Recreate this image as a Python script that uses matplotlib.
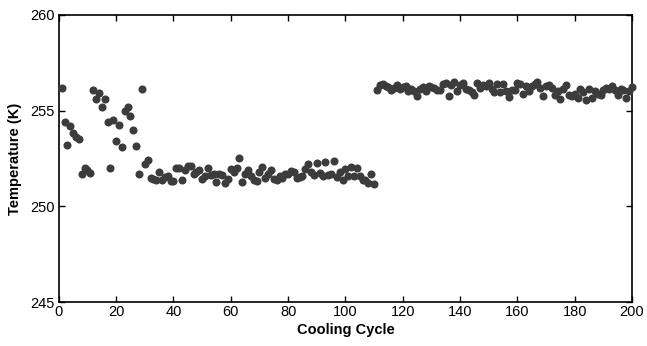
import matplotlib
matplotlib.use("Agg")
import matplotlib.pyplot as plt
import numpy as np

plt.rcParams['font.family'] = ['Liberation Sans', 'DejaVu Sans']

# temperature per cooling cycle (cycles 1..110)
temp_low = [
    256.2, 254.4, 253.2, 254.2, 253.85, 253.6, 253.5, 251.7, 252.0, 251.9,
    251.75, 256.1, 255.6, 255.9, 255.2, 255.6, 254.4, 252.0, 254.5, 253.4,
    254.25, 253.1, 255.0, 255.2, 254.7, 254.0, 253.15, 251.7, 256.15, 252.2,
    252.4, 251.5, 251.45, 251.4, 251.8, 251.4, 251.55, 251.6, 251.3, 251.3,
    252.0, 252.0, 251.35, 251.9, 252.1, 252.1, 251.7, 251.8, 251.9, 251.45,
    251.6, 252.0, 251.65, 251.7, 251.25, 251.7, 251.65, 251.2, 251.45, 251.95,
    251.8, 252.0, 252.55, 251.25, 251.7, 251.9, 251.6, 251.4, 251.3, 251.8,
    252.05, 251.5, 251.7, 251.9, 251.45, 251.4, 251.6, 251.5, 251.7, 251.7,
    251.85, 251.8, 251.5, 251.55, 251.6, 251.95, 252.2, 251.8, 251.65, 252.25,
    251.75, 251.6, 252.3, 251.65, 251.7, 252.35, 251.55, 251.8, 251.4, 251.95,
    251.6, 252.05, 251.6, 252.0, 251.6, 251.4, 251.35, 251.2, 251.7, 251.15,
]

# cycles 111..200
temp_high = [
    256.1, 256.35, 256.4, 256.3, 256.25, 256.1, 256.2, 256.35, 256.15, 256.25,
    256.3, 256.05, 256.15, 256.0, 255.75, 256.15, 256.25, 256.0, 256.3, 256.25,
    256.2, 256.1, 256.1, 256.4, 256.45, 255.75, 256.35, 256.5, 256.05, 256.35,
    256.45, 256.15, 256.1, 255.95, 255.8, 256.45, 256.2, 256.35, 256.3, 256.45,
    256.15, 255.95, 256.4, 255.95, 256.4, 256.05, 255.7, 256.1, 256.1, 256.45,
    256.4, 255.85, 256.3, 256.05, 256.3, 256.4, 256.5, 256.2, 255.75, 256.3,
    256.35, 256.2, 255.8, 256.05, 255.6, 256.15, 256.35, 255.8, 255.75, 255.85,
    255.65, 256.15, 255.95, 255.55, 256.15, 255.65, 256.0, 255.85, 255.8, 256.1,
    256.2, 256.15, 256.3, 256.1, 255.8, 256.15, 256.1, 255.65, 256.05, 256.25,
]

temps = temp_low + temp_high
cycles = np.arange(1, len(temps) + 1)

x_ticks = list(range(0, 201, 20))
y_ticks = [245, 250, 255, 260]

fig = plt.figure(figsize=(6.47, 3.46), dpi=100)
ax = fig.add_axes([0.0909, 0.127, 0.886, 0.83])

ax.plot(cycles, temps, 'o', color='#3c3c3c', markersize=5.8,
        markeredgewidth=0, clip_on=False, zorder=3)

ax.set_xlim(0, 200)
ax.set_ylim(245, 260)
ax.set_xticks(x_ticks)
ax.set_yticks(y_ticks)

ax.tick_params(axis='x', direction='in', length=4, width=1, top=True,
               labelsize=10.5, pad=2)
ax.tick_params(axis='y', direction='in', length=4, width=1, right=True,
               labelsize=10.5, pad=3)
for sp in ax.spines.values():
    sp.set_linewidth(1.2)

ax.set_xlabel('Cooling Cycle', fontsize=10.5, fontweight='bold', labelpad=3)
ax.set_ylabel('Temperature (K)', fontsize=10.5, fontweight='bold', labelpad=6)

fig.savefig('out.png', dpi=100)
